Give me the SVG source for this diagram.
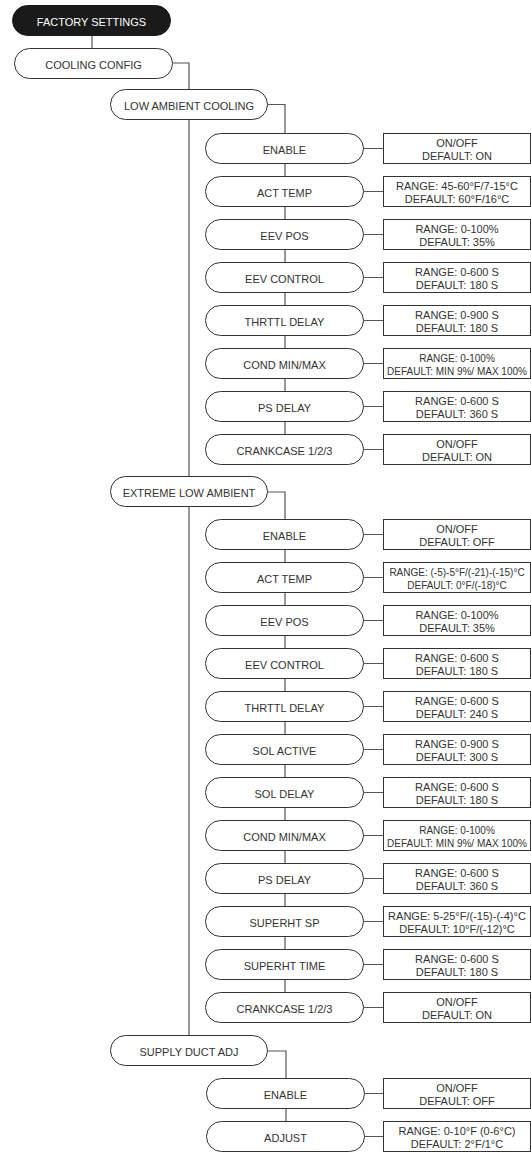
<svg xmlns="http://www.w3.org/2000/svg" width="531" height="1153" viewBox="0 0 531 1153">
<style>
.bg{fill:#fff}
.pill{fill:#fff;stroke:#333;stroke-width:1}
.root{fill:#1a1a1a;stroke:#1a1a1a;stroke-width:1}
.box{fill:#fff;stroke:#333;stroke-width:1}
.conn{fill:none;stroke:#555;stroke-width:1.2}
text{font-family:"Liberation Sans",Arial,sans-serif;font-size:11px;fill:#333;text-anchor:middle}
.wt{fill:#fff}
.sm{font-size:10px}
</style>
<rect class="bg" x="0" y="0" width="531" height="1153"/>
<g id="connectors">
<path class="conn" d="M92,36V48"/>
<path class="conn" d="M172,63H189V89"/>
<path class="conn" d="M189,120V476M189,507V1035"/>
<path class="conn" d="M267,104.5H285V133"/>
<path class="conn" d="M267,492H285V519"/>
<path class="conn" d="M267,1051H286V1078"/>
<path class="conn" d="M285,164V176M285,207V219M285,250V262M285,293V305M285,336V348M285,379V391M285,422V434"/>
<path class="conn" d="M285,550V562M285,593V605M285,636V648M285,679V691M285,722V734M285,765V777M285,808V820M285,851V863M285,894V906M285,937V949M285,980V992"/>
<path class="conn" d="M286,1109V1121"/>
<path class="conn" d="M363,148.5H383M363,191.5H383M363,234.5H383M363,277.5H383M363,320.5H383M363,363.5H383M363,406.5H383M363,449.5H383"/>
<path class="conn" d="M363,534.5H383M363,577.5H383M363,620.5H383M363,663.5H383M363,706.5H383M363,749.5H383M363,792.5H383M363,835.5H383M363,878.5H383M363,921.5H383M363,964.5H383M363,1007.5H383"/>
<path class="conn" d="M364,1093.5H384M364,1136.5H384"/>
</g>
<g id="factory-settings"><rect class="root" x="12.5" y="5.5" width="158" height="30" rx="15"/><text class="wt" x="91.5" y="25.5">FACTORY SETTINGS</text></g>
<g id="cooling-config"><rect class="pill" x="14.5" y="48.5" width="158" height="30" rx="15"/><text x="93.5" y="68.5">COOLING CONFIG</text></g>
<g id="low-ambient"><rect class="pill" x="110.5" y="89.5" width="157" height="30" rx="15"/><text x="189" y="110">LOW AMBIENT COOLING</text></g>

<g id="la-enable"><rect class="pill" x="205.5" y="133.5" width="158" height="30" rx="15"/><text x="284.5" y="153.5">ENABLE</text></g>
<g id="la-enable-val"><rect class="box" x="383.5" y="133.5" width="147" height="30"/><text x="457" y="146.5">ON/OFF</text><text x="457" y="159.5">DEFAULT: ON</text></g>
<g id="la-acttemp"><rect class="pill" x="205.5" y="176.5" width="158" height="30" rx="15"/><text x="284.5" y="196.5">ACT TEMP</text></g>
<g id="la-acttemp-val"><rect class="box" x="383.5" y="176.5" width="147" height="30"/><text x="457" y="189.5">RANGE: 45-60°F/7-15°C</text><text x="457" y="202.5">DEFAULT: 60°F/16°C</text></g>
<g id="la-eevpos"><rect class="pill" x="205.5" y="219.5" width="158" height="30" rx="15"/><text x="284.5" y="239.5">EEV POS</text></g>
<g id="la-eevpos-val"><rect class="box" x="383.5" y="219.5" width="147" height="30"/><text x="457" y="232.5">RANGE: 0-100%</text><text x="457" y="245.5">DEFAULT: 35%</text></g>
<g id="la-eevctrl"><rect class="pill" x="205.5" y="262.5" width="158" height="30" rx="15"/><text x="284.5" y="282.5">EEV CONTROL</text></g>
<g id="la-eevctrl-val"><rect class="box" x="383.5" y="262.5" width="147" height="30"/><text x="457" y="275.5">RANGE: 0-600 S</text><text x="457" y="288.5">DEFAULT: 180 S</text></g>
<g id="la-thrttl"><rect class="pill" x="205.5" y="305.5" width="158" height="30" rx="15"/><text x="284.5" y="325.5">THRTTL DELAY</text></g>
<g id="la-thrttl-val"><rect class="box" x="383.5" y="305.5" width="147" height="30"/><text x="457" y="318.5">RANGE: 0-900 S</text><text x="457" y="331.5">DEFAULT: 180 S</text></g>
<g id="la-cond"><rect class="pill" x="205.5" y="348.5" width="158" height="30" rx="15"/><text x="284.5" y="368.5">COND MIN/MAX</text></g>
<g id="la-cond-val"><rect class="box" x="383.5" y="348.5" width="147" height="30"/><text x="457" y="361.5" class="sm">RANGE: 0-100%</text><text x="457" y="374.5" class="sm">DEFAULT: MIN 9%/ MAX 100%</text></g>
<g id="la-ps"><rect class="pill" x="205.5" y="391.5" width="158" height="30" rx="15"/><text x="284.5" y="411.5">PS DELAY</text></g>
<g id="la-ps-val"><rect class="box" x="383.5" y="391.5" width="147" height="30"/><text x="457" y="404.5">RANGE: 0-600 S</text><text x="457" y="417.5">DEFAULT: 360 S</text></g>
<g id="la-crank"><rect class="pill" x="205.5" y="434.5" width="158" height="30" rx="15"/><text x="284.5" y="454.5">CRANKCASE 1/2/3</text></g>
<g id="la-crank-val"><rect class="box" x="383.5" y="434.5" width="147" height="30"/><text x="457" y="447.5">ON/OFF</text><text x="457" y="460.5">DEFAULT: ON</text></g>

<g id="extreme-low"><rect class="pill" x="110.5" y="476.5" width="157" height="30" rx="15"/><text x="189" y="497">EXTREME LOW AMBIENT</text></g>
<g id="el-enable"><rect class="pill" x="205.5" y="519.5" width="158" height="30" rx="15"/><text x="284.5" y="539.5">ENABLE</text></g>
<g id="el-enable-val"><rect class="box" x="383.5" y="519.5" width="147" height="30"/><text x="457" y="532.5">ON/OFF</text><text x="457" y="545.5">DEFAULT: OFF</text></g>
<g id="el-acttemp"><rect class="pill" x="205.5" y="562.5" width="158" height="30" rx="15"/><text x="284.5" y="582.5">ACT TEMP</text></g>
<g id="el-acttemp-val"><rect class="box" x="383.5" y="562.5" width="147" height="30"/><text x="457" y="575.5" class="sm">RANGE: (-5)-5°F/(-21)-(-15)°C</text><text x="457" y="588.5" class="sm">DEFAULT: 0°F/(-18)°C</text></g>
<g id="el-eevpos"><rect class="pill" x="205.5" y="605.5" width="158" height="30" rx="15"/><text x="284.5" y="625.5">EEV POS</text></g>
<g id="el-eevpos-val"><rect class="box" x="383.5" y="605.5" width="147" height="30"/><text x="457" y="618.5">RANGE: 0-100%</text><text x="457" y="631.5">DEFAULT: 35%</text></g>
<g id="el-eevctrl"><rect class="pill" x="205.5" y="648.5" width="158" height="30" rx="15"/><text x="284.5" y="668.5">EEV CONTROL</text></g>
<g id="el-eevctrl-val"><rect class="box" x="383.5" y="648.5" width="147" height="30"/><text x="457" y="661.5">RANGE: 0-600 S</text><text x="457" y="674.5">DEFAULT: 180 S</text></g>
<g id="el-thrttl"><rect class="pill" x="205.5" y="691.5" width="158" height="30" rx="15"/><text x="284.5" y="711.5">THRTTL DELAY</text></g>
<g id="el-thrttl-val"><rect class="box" x="383.5" y="691.5" width="147" height="30"/><text x="457" y="704.5">RANGE: 0-600 S</text><text x="457" y="717.5">DEFAULT: 240 S</text></g>
<g id="el-solact"><rect class="pill" x="205.5" y="734.5" width="158" height="30" rx="15"/><text x="284.5" y="754.5">SOL ACTIVE</text></g>
<g id="el-solact-val"><rect class="box" x="383.5" y="734.5" width="147" height="30"/><text x="457" y="747.5">RANGE: 0-900 S</text><text x="457" y="760.5">DEFAULT: 300 S</text></g>
<g id="el-soldelay"><rect class="pill" x="205.5" y="777.5" width="158" height="30" rx="15"/><text x="284.5" y="797.5">SOL DELAY</text></g>
<g id="el-soldelay-val"><rect class="box" x="383.5" y="777.5" width="147" height="30"/><text x="457" y="790.5">RANGE: 0-600 S</text><text x="457" y="803.5">DEFAULT: 180 S</text></g>
<g id="el-cond"><rect class="pill" x="205.5" y="820.5" width="158" height="30" rx="15"/><text x="284.5" y="840.5">COND MIN/MAX</text></g>
<g id="el-cond-val"><rect class="box" x="383.5" y="820.5" width="147" height="30"/><text x="457" y="833.5" class="sm">RANGE: 0-100%</text><text x="457" y="846.5" class="sm">DEFAULT: MIN 9%/ MAX 100%</text></g>
<g id="el-ps"><rect class="pill" x="205.5" y="863.5" width="158" height="30" rx="15"/><text x="284.5" y="883.5">PS DELAY</text></g>
<g id="el-ps-val"><rect class="box" x="383.5" y="863.5" width="147" height="30"/><text x="457" y="876.5">RANGE: 0-600 S</text><text x="457" y="889.5">DEFAULT: 360 S</text></g>
<g id="el-shsp"><rect class="pill" x="205.5" y="906.5" width="158" height="30" rx="15"/><text x="284.5" y="926.5">SUPERHT SP</text></g>
<g id="el-shsp-val"><rect class="box" x="383.5" y="906.5" width="147" height="30"/><text x="457" y="919.5">RANGE: 5-25°F/(-15)-(-4)°C</text><text x="457" y="932.5">DEFAULT: 10°F/(-12)°C</text></g>
<g id="el-shtime"><rect class="pill" x="205.5" y="949.5" width="158" height="30" rx="15"/><text x="284.5" y="969.5">SUPERHT TIME</text></g>
<g id="el-shtime-val"><rect class="box" x="383.5" y="949.5" width="147" height="30"/><text x="457" y="962.5">RANGE: 0-600 S</text><text x="457" y="975.5">DEFAULT: 180 S</text></g>
<g id="el-crank"><rect class="pill" x="205.5" y="992.5" width="158" height="30" rx="15"/><text x="284.5" y="1012.5">CRANKCASE 1/2/3</text></g>
<g id="el-crank-val"><rect class="box" x="383.5" y="992.5" width="147" height="30"/><text x="457" y="1005.5">ON/OFF</text><text x="457" y="1018.5">DEFAULT: ON</text></g>

<g id="supply-duct"><rect class="pill" x="110.5" y="1035.5" width="157" height="30" rx="15"/><text x="189" y="1056">SUPPLY DUCT ADJ</text></g>
<g id="sd-enable"><rect class="pill" x="206.5" y="1078.5" width="158" height="30" rx="15"/><text x="285.5" y="1098.5">ENABLE</text></g>
<g id="sd-enable-val"><rect class="box" x="383.5" y="1078.5" width="147" height="30"/><text x="457" y="1091.5">ON/OFF</text><text x="457" y="1104.5">DEFAULT: OFF</text></g>
<g id="sd-adjust"><rect class="pill" x="206.5" y="1121.5" width="158" height="30" rx="15"/><text x="285.5" y="1141.5">ADJUST</text></g>
<g id="sd-adjust-val"><rect class="box" x="383.5" y="1121.5" width="147" height="30"/><text x="457" y="1134.5">RANGE: 0-10°F (0-6°C)</text><text x="457" y="1147.5">DEFAULT: 2°F/1°C</text></g>
</svg>
